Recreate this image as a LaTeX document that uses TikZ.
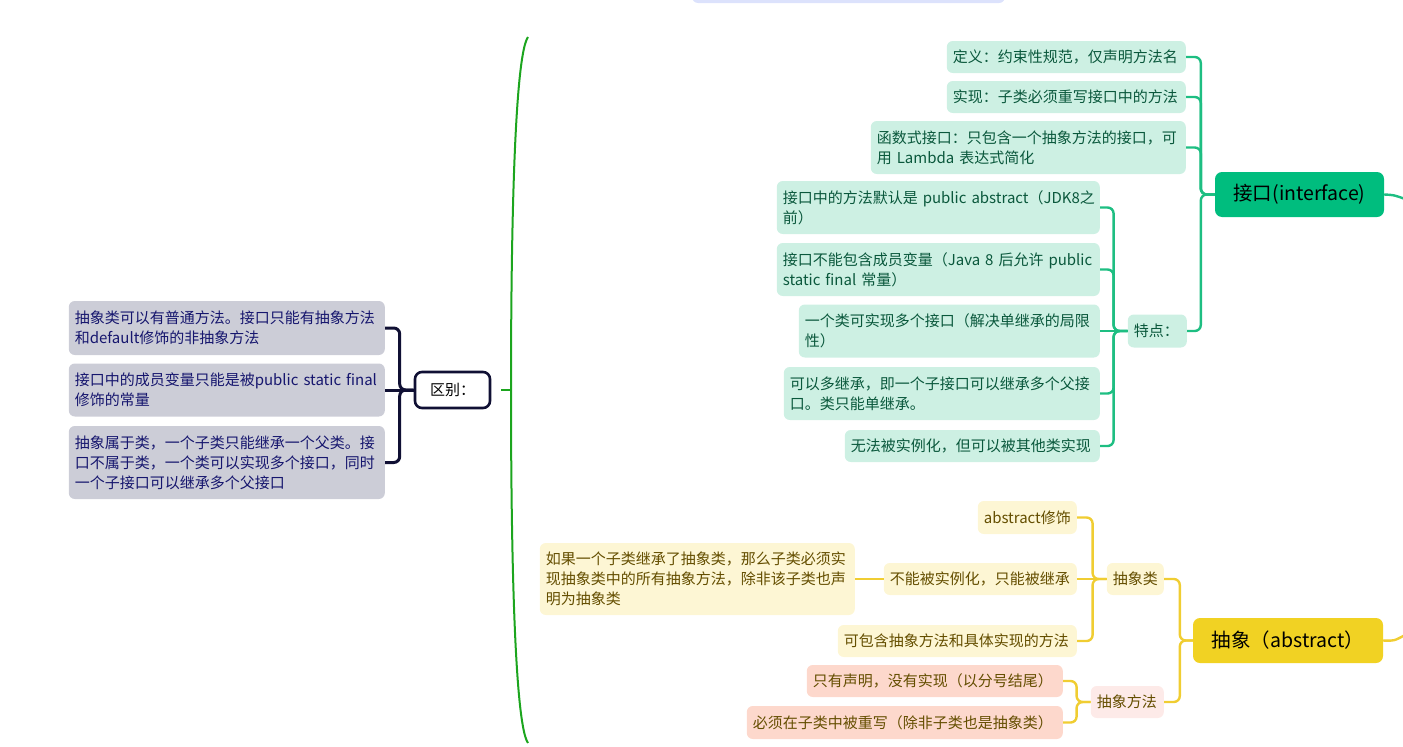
\documentclass[tikz,border=0pt]{standalone}
\usepackage{fontspec}
\setmainfont{Noto Sans CJK SC}

% 颜色
\definecolor{topblue}{RGB}{220,226,252}
\definecolor{jkroot}{RGB}{0,189,126}
\definecolor{jkfill}{RGB}{205,240,227}
\definecolor{jktext}{RGB}{10,88,60}
\definecolor{jkline}{RGB}{30,190,130}
\definecolor{qbfill}{RGB}{204,205,215}
\definecolor{qbtext}{RGB}{22,22,110}
\definecolor{qbline}{RGB}{16,16,52}
\definecolor{bigline}{RGB}{28,165,30}
\definecolor{cxroot}{RGB}{241,210,35}
\definecolor{cxfill}{RGB}{253,246,212}
\definecolor{cxtext}{RGB}{100,78,0}
\definecolor{cxline}{RGB}{240,205,50}
\definecolor{ffpink}{RGB}{253,234,232}
\definecolor{ffsalmon}{RGB}{253,216,204}

\tikzset{
  leaf/.style={rounded corners=6pt, inner xsep=6pt, inner ysep=0pt, align=left,
    anchor=east, font=\fontsize{15}{20}\selectfont},
  jkleaf/.style={leaf, fill=jkfill, text=jktext},
  qbleaf/.style={leaf, fill=qbfill, text=qbtext},
  cxleaf/.style={leaf, fill=cxfill, text=cxtext},
  ffleaf/.style={leaf, fill=ffsalmon, text=cxtext},
  rootbox/.style={rounded corners=7pt, inner sep=0pt, align=center,
    font=\fontsize{19.5}{23}\selectfont, text=black},
  jkwire/.style={draw=jkline, line width=2.4pt, rounded corners=6pt},
  cxwire/.style={draw=cxline, line width=2.4pt, rounded corners=6pt},
  qbwire/.style={draw=qbline, line width=3pt, rounded corners=6pt},
}

\begin{document}
\begin{tikzpicture}[x=1pt, y=-1pt]
    \useasboundingbox (0,0) rectangle (1403,747);

    % 顶部的蓝色框（只露出一点）
    \fill[topblue, rounded corners=6pt] (692,-12) rectangle (1005,3);

    % 绿色大括号
    \coordinate (brace) at (501,390);
    \draw[bigline, line width=2pt] (528,37) .. controls (512,60) and (511,300) .. (511,390)
        .. controls (511,480) and (512,720) .. (528,743);
    \draw[bigline, line width=2pt] (brace) -- (511,390);

    % 区别
    \node[rootbox, draw=qbline, line width=2.6pt, fill=white, minimum width=75pt,
        minimum height=36pt, font=\fontsize{15}{20}\selectfont] (qb) at (452.5,390) {区别：};
    \node[qbleaf, text width=304pt, minimum height=54pt] (qb1) at (385,328)
        {抽象类可以有普通方法。接口只能有抽象方法\\和default修饰的非抽象方法};
    \node[qbleaf, text width=304pt, minimum height=53pt] (qb2) at (385,390)
        {接口中的成员变量只能是被public static final\\修饰的常量};
    \node[qbleaf, text width=304pt, minimum height=73pt] (qb3) at (385,462.5)
        {抽象属于类，一个子类只能继承一个父类。接\\口不属于类，一个类可以实现多个接口，同时\\一个子接口可以继承多个父接口};
    \foreach \c in {qb1,qb3}
        \draw[qbwire] (qb.west) -- ++(-14,0) |- (\c.east);
    \draw[qbwire] (qb.west) -- (qb2.east);

    % 接口
    \node[rootbox, fill=jkroot, minimum width=169pt, minimum height=45pt] (jk) at (1299.5,194.5)
        {接口(interface)};
    \coordinate (jkout) at (1405,199);
    \draw[jkline, line width=2.4pt] (jk.east) .. controls (1394,195) .. (jkout);

    \node[jkleaf, text width=227pt, minimum height=32pt] (dy) at (1186,57)
        {定义：约束性规范，仅声明方法名};
    \node[jkleaf, text width=227pt, minimum height=32pt] (sx) at (1186,97)
        {实现：子类必须重写接口中的方法};
    \node[jkleaf, text width=303pt, minimum height=53pt] (hs) at (1186,147.5)
        {函数式接口：只包含一个抽象方法的接口，可\\用 Lambda 表达式简化};
    \node[jkleaf, text width=47pt, minimum height=33pt] (td) at (1187,331) {特点：};
    \foreach \c in {dy,sx,hs,td}
        \draw[jkwire] (jk.west) -- ++(-14,0) |- (\c.east);

    % 特点的子节点
    \node[jkleaf, text width=311pt, minimum height=53pt] (ta) at (1100,207.5)
        {\mbox{接口中的方法默认是 public abstract（JDK8之}\\前）};
    \node[jkleaf, text width=311pt, minimum height=53pt] (tb) at (1100,269.5)
        {接口不能包含成员变量（Java 8 后允许 public\\static final 常量）};
    \node[jkleaf, text width=289pt, minimum height=53pt] (tc) at (1100,331)
        {一个类可实现多个接口（解决单继承的局限\\性）};
    \node[jkleaf, text width=304pt, minimum height=53pt] (tdd) at (1100,393.5)
        {可以多继承，即一个子接口可以继承多个父接\\口。类只能单继承。};
    \node[jkleaf, text width=243pt, minimum height=32pt] (te) at (1100,446)
        {无法被实例化，但可以被其他类实现};
    \foreach \c in {ta,tb,tdd,te}
        \draw[jkwire] (td.west) -- ++(-14,0) |- (\c.east);
    \draw[jkwire] (td.west) -- (tc.east);

    % 抽象
    \node[rootbox, fill=cxroot, minimum width=190pt, minimum height=45pt] (cx) at (1288,640.5)
        {抽象（abstract）};
    \coordinate (cxout) at (1405,635);
    \draw[cxline, line width=2.4pt] (cx.east) .. controls (1394,641) .. (cxout);

    \node[cxleaf, text width=45pt, minimum height=32pt] (cxl) at (1164,579) {抽象类};
    \node[leaf, fill=ffpink, text=cxtext, text width=61pt, minimum height=32pt] (cxff)
        at (1164,702) {抽象方法};
    \foreach \c in {cxl,cxff}
        \draw[cxwire] (cx.west) -- ++(-13,0) |- (\c.east);

    % 抽象类的子节点
    \node[cxleaf, text width=87pt, minimum height=33pt] (xs) at (1077,517.5) {abstract修饰};
    \node[cxleaf, text width=181pt, minimum height=32pt] (bn) at (1077,579)
        {不能被实例化，只能被继承};
    \node[cxleaf, text width=227pt, minimum height=32pt] (kb) at (1077,641)
        {可包含抽象方法和具体实现的方法};
    \draw[cxwire] (cxl.west) -- ++(-14,0) |- (xs.east);
    \draw[cxwire] (cxl.west) -- ++(-14,0) |- (kb.east);
    \draw[cxwire] (cxl.west) -- (bn.east);
    \node[cxleaf, text width=303pt, minimum height=72pt] (rg) at (855,579)
        {如果一个子类继承了抽象类，那么子类必须实\\现抽象类中的所有抽象方法，除非该子类也声\\明为抽象类};
    \draw[cxwire] (bn.west) -- (rg.east);

    % 抽象方法的子节点
    \node[ffleaf, text width=244pt, minimum height=32pt] (zy) at (1063,681)
        {只有声明，没有实现（以分号结尾）};
    \node[ffleaf, text width=304pt, minimum height=33pt] (bx) at (1063,722.5)
        {必须在子类中被重写（除非子类也是抽象类）};
    \foreach \c in {zy,bx}
        \draw[cxwire] (cxff.west) -- ++(-14,0) |- (\c.east);
\end{tikzpicture}
\end{document}
